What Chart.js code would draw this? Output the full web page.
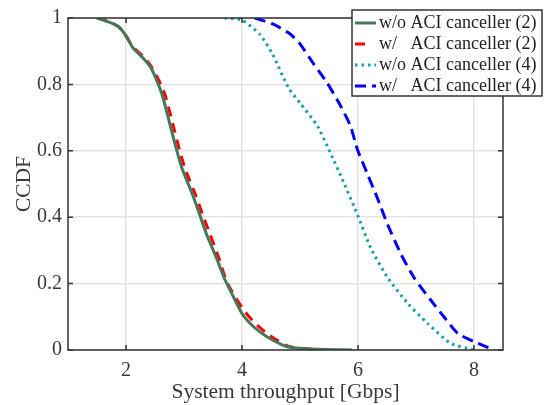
<!DOCTYPE html>
<html>
<head>
<meta charset="utf-8">
<script src="https://cdn.jsdelivr.net/npm/chart.js@4.4.0/dist/chart.umd.min.js"></script>
<style>
  html, body { margin: 0; padding: 0; background: #fff; }
  #wrap { width: 544px; height: 405px; }
</style>
</head>
<body>
<div id="wrap"><canvas id="ccdfChart" width="544" height="405"></canvas></div>
<script>
// throughput [Gbps] vs CCDF
var woAci2X = [1.5, 1.7, 1.88, 2.0, 2.12, 2.3, 2.43, 2.57, 2.63, 2.75, 2.87, 2.97, 3.15, 3.27, 3.39, 3.56, 3.7, 3.74, 4.0, 4.2, 4.43, 4.78, 5.2, 5.9];
var woAci2Y = [1, 0.988, 0.973, 0.946, 0.91, 0.878, 0.85, 0.795, 0.765, 0.685, 0.604, 0.545, 0.467, 0.408, 0.348, 0.277, 0.214, 0.2, 0.11, 0.07, 0.04, 0.01, 0.003, 0];

var wAci2X = [1.5, 1.7, 1.88, 2.0, 2.12, 2.3, 2.45, 2.6, 2.68, 2.8, 2.92, 3.02, 3.2, 3.32, 3.45, 3.6, 3.75, 4.03, 4.2, 4.43, 4.78, 5.1, 5.6];
var wAci2Y = [1, 0.99, 0.972, 0.946, 0.912, 0.884, 0.85, 0.8, 0.765, 0.685, 0.604, 0.545, 0.467, 0.408, 0.348, 0.277, 0.2, 0.12, 0.085, 0.05, 0.012, 0.004, 0];

var woAci4X = [3.7, 4.0, 4.31, 4.53, 4.8, 5.0, 5.3, 5.52, 5.75, 5.99, 6.22, 6.51, 6.86, 7.2, 7.6, 8.0];
var woAci4Y = [1, 0.994, 0.95, 0.89, 0.79, 0.744, 0.675, 0.595, 0.506, 0.408, 0.307, 0.218, 0.14, 0.08, 0.02, 0];

var wAci4X = [4.22, 4.53, 4.83, 5.0, 5.23, 5.47, 5.7, 5.87, 5.99, 6.17, 6.34, 6.51, 6.74, 6.97, 7.26, 7.49, 7.72, 8.0, 8.35];
var wAci4Y = [1, 0.982, 0.952, 0.922, 0.863, 0.804, 0.735, 0.675, 0.604, 0.527, 0.455, 0.378, 0.289, 0.217, 0.149, 0.098, 0.05, 0.025, 0];

var xTicks = [2, 4, 6, 8];
var yTicks = [0, 0.2, 0.4, 0.6, 0.8, 1];

var labels = ["w/o ACI canceller (2)", "w/   ACI canceller (2)", "w/o ACI canceller (4)", "w/   ACI canceller (4)"];

function pts(xs, ys) {
  return xs.map(function (x, i) { return { x: x, y: ys[i] }; });
}

var fontFam = "'Liberation Serif', 'DejaVu Serif', serif";
var axisColor = "#333333";
var textColor = "#3a3a3a";

// box around plot + inward tick marks
var boxPlugin = {
  id: "boxPlugin",
  afterDatasetsDraw: function (chart) {
    var c = chart.ctx, a = chart.chartArea;
    var xs = chart.scales.x, ys = chart.scales.y;
    c.save();
    c.strokeStyle = axisColor;
    c.lineWidth = 1.5;
    c.strokeRect(a.left, a.top, a.right - a.left, a.bottom - a.top);
    c.beginPath();
    xTicks.forEach(function (v) {
      var px = xs.getPixelForValue(v);
      c.moveTo(px, a.bottom); c.lineTo(px, a.bottom - 5);
      c.moveTo(px, a.top); c.lineTo(px, a.top + 5);
    });
    yTicks.forEach(function (v) {
      var py = ys.getPixelForValue(v);
      c.moveTo(a.left, py); c.lineTo(a.left + 5, py);
      c.moveTo(a.right, py); c.lineTo(a.right - 5, py);
    });
    c.stroke();
    c.restore();
  }
};

// legend box in the upper right, like the matlab one
var legendPlugin = {
  id: "legendPlugin",
  afterDraw: function (chart) {
    var c = chart.ctx;
    var bx = 352, by = 10, bw = 190, bh = 86;
    c.save();
    c.fillStyle = "#ffffff";
    c.fillRect(bx, by, bw, bh);
    c.strokeStyle = axisColor;
    c.lineWidth = 1.5;
    c.strokeRect(bx, by, bw, bh);
    c.font = "18px " + fontFam;
    c.textBaseline = "middle";
    c.fillStyle = "#222222";
    var rowY = [23, 44, 65, 86];
    var prefixW = c.measureText("w/o ").width;
    chart.data.datasets.forEach(function (ds, i) {
      var y = rowY[i];
      c.strokeStyle = ds.borderColor;
      c.lineWidth = ds.borderWidth;
      c.setLineDash(ds.borderDash || []);
      c.beginPath();
      c.moveTo(355, y);
      c.lineTo(i === 1 ? 367 : 376, y);
      c.stroke();
      c.setLineDash([]);
      var parts = ds.label.split("ACI");
      c.fillText(parts[0].trim(), 379, y);
      c.fillText("ACI" + parts[1], 379 + prefixW, y);
    });
    c.restore();
  }
};

var ctx = document.getElementById("ccdfChart").getContext("2d");
var myChart = new Chart(ctx, {
  type: "line",
  data: {
    datasets: [
      {
        label: labels[0],
        data: pts(woAci2X, woAci2Y),
        borderColor: "#44785a",
        borderWidth: 3,
        pointRadius: 0,
        tension: 0.2,
      },
      {
        label: labels[1],
        data: pts(wAci2X, wAci2Y),
        borderColor: "#ff0000",
        borderWidth: 3,
        borderDash: [10, 7],
        pointRadius: 0,
        tension: 0.2,
      },
      {
        label: labels[2],
        data: pts(woAci4X, woAci4Y),
        borderColor: "#12a0a0",
        borderWidth: 3,
        borderDash: [2.5, 4],
        pointRadius: 0,
        tension: 0.2,
      },
      {
        label: labels[3],
        data: pts(wAci4X, wAci4Y),
        borderColor: "#0000ff",
        borderWidth: 3,
        borderDash: [11, 6],
        pointRadius: 0,
        tension: 0.2,
      },
    ],
  },
  options: {
    responsive: false,
    animation: false,
    layout: { padding: { top: 14, right: 41, left: 0, bottom: 0 } },
    plugins: {
      legend: { display: false },
      tooltip: { enabled: false },
    },
    scales: {
      x: {
        type: "linear",
        min: 1,
        max: 8.5,
        afterBuildTicks: function (axis) {
          axis.ticks = xTicks.map(function (v) { return { value: v }; });
        },
        afterFit: function (axis) { axis.height = 55; },
        grid: { color: "#e3e3e3", lineWidth: 1.5, drawTicks: false },
        border: { display: false },
        ticks: {
          padding: 9,
          color: textColor,
          font: { family: fontFam, size: 20 },
        },
        title: {
          display: true,
          text: "System throughput [Gbps]",
          color: textColor,
          padding: { top: 0, bottom: 0 },
          font: { family: fontFam, size: 21.5 },
        },
      },
      y: {
        min: 0,
        max: 1,
        afterBuildTicks: function (axis) {
          axis.ticks = yTicks.map(function (v) { return { value: v }; });
        },
        afterFit: function (axis) { axis.width = 68; },
        grid: { color: "#e3e3e3", lineWidth: 1.5, drawTicks: false },
        border: { display: false },
        ticks: {
          padding: 6,
          color: textColor,
          font: { family: fontFam, size: 20 },
          callback: function (v) { return String(v); },
        },
        title: {
          display: true,
          text: "CCDF",
          color: textColor,
          padding: { top: 11, bottom: 0 },
          font: { family: fontFam, size: 21.5 },
        },
      },
    },
  },
  plugins: [boxPlugin, legendPlugin],
});
</script>
</body>
</html>
